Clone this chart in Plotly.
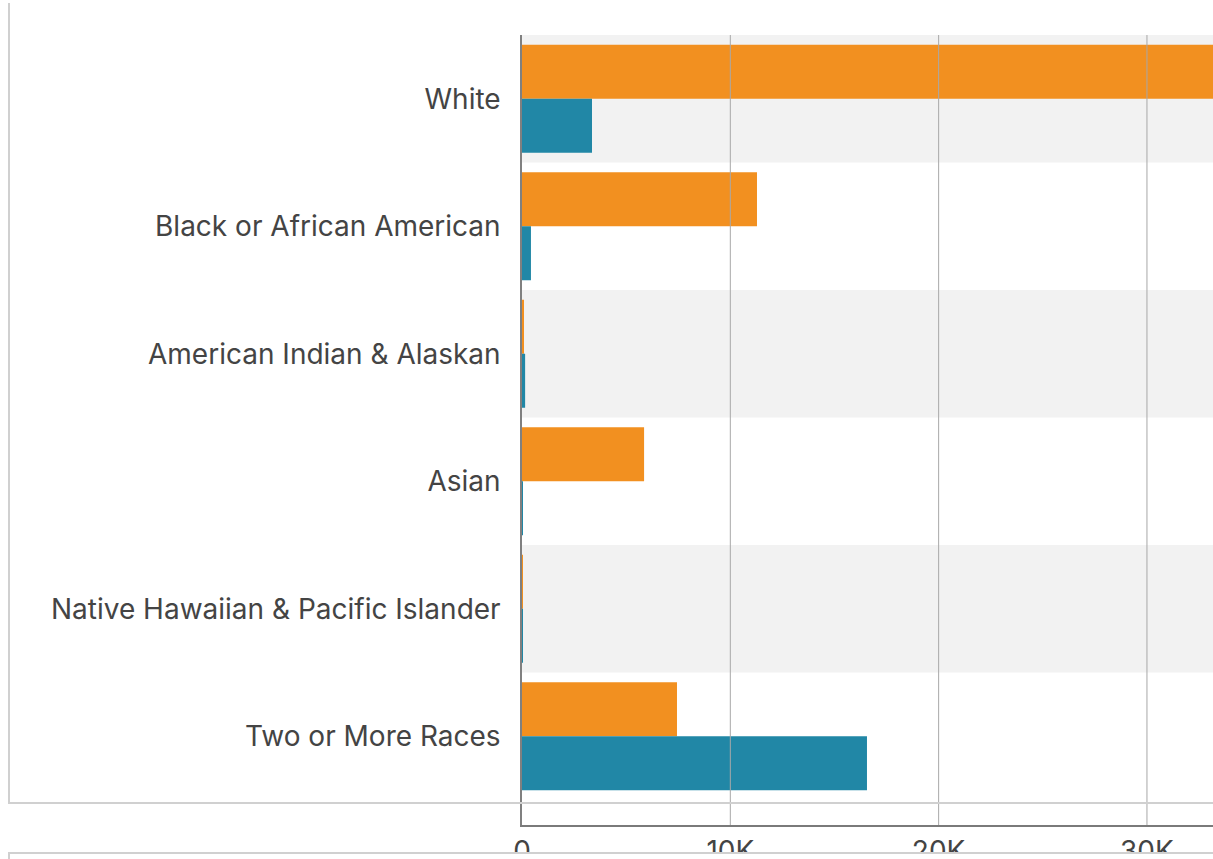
import plotly.graph_objects as go

categories = ["White", "Black or African American", "American Indian & Alaskan",
              "Asian", "Native Hawaiian & Pacific Islander", "Two or More Races"]
non_hispanic = [36000, 11280, 60, 5860, 25, 7440]
hispanic = [3360, 430, 150, 30, 20, 16560]
x_tickvals = [0, 10000, 20000, 30000]
x_ticktext = ["0", "10K", "20K", "30K"]

W, H = 1213, 859
L, R, T, B = 522, 1213, 35, 825  # plot area in pixels

def px(xp):
    return (xp - L) / (R - L)

def py(yp):
    return (B - yp) / (B - T)

ORANGE = "#F29020"
TEAL = "#2187A6"
FS = 28

fig = go.Figure()
fig.add_trace(go.Bar(y=categories, x=non_hispanic, orientation="h",
                     marker=dict(color=ORANGE, line=dict(width=0)), name="Not Hispanic"))
fig.add_trace(go.Bar(y=categories, x=hispanic, orientation="h",
                     marker=dict(color=TEAL, line=dict(width=0)), name="Hispanic"))

shapes = []
# alternating row bands
for i in range(len(categories)):
    if i % 2 == 0:
        shapes.append(dict(type="rect", xref="paper", yref="y", x0=0, x1=1,
                           y0=i - 0.5, y1=i + 0.5, fillcolor="#F2F2F2",
                           line=dict(width=0), layer="below"))
# gridlines above bars
for v in x_tickvals[1:]:
    shapes.append(dict(type="line", xref="x", yref="paper", x0=v, x1=v, y0=0, y1=1,
                       line=dict(color="#A8A8A8", width=1), layer="above"))
# outer frame lines
frame = "#D0D0D0"
shapes.append(dict(type="line", xref="paper", yref="paper", x0=px(9), x1=px(9),
                   y0=py(3), y1=py(803), line=dict(color=frame, width=2), layer="above"))
shapes.append(dict(type="line", xref="paper", yref="paper", x0=px(8), x1=px(1213),
                   y0=py(803), y1=py(803), line=dict(color=frame, width=2), layer="above"))
shapes.append(dict(type="rect", xref="paper", yref="paper", x0=px(8), x1=px(1213),
                   y0=py(853), y1=py(870), fillcolor="white", line=dict(width=0), layer="above"))
shapes.append(dict(type="line", xref="paper", yref="paper", x0=px(8), x1=px(1213),
                   y0=py(853), y1=py(853), line=dict(color=frame, width=2), layer="above"))
shapes.append(dict(type="line", xref="paper", yref="paper", x0=px(9), x1=px(9),
                   y0=py(853), y1=py(870), line=dict(color=frame, width=2), layer="above"))

fig.update_layout(
    width=W, height=H,
    margin=dict(l=L, r=W - R, t=T, b=H - B, pad=0, autoexpand=False),
    paper_bgcolor="white", plot_bgcolor="white",
    barmode="group", bargap=0.153, bargroupgap=0,
    showlegend=False,
    font=dict(family="Inter", size=FS, color="#444444"),
    shapes=shapes,
    xaxis=dict(range=[0, 33170], tickvals=x_tickvals, ticktext=x_ticktext,
               showgrid=False, zeroline=False, showline=True, linecolor="#7A7A7A",
               linewidth=2, layer="above traces", ticks="", fixedrange=True,
               automargin=False, tickfont=dict(size=FS, color="#444444")),
    yaxis=dict(range=[5.696, -0.5], showgrid=False, zeroline=False, showline=True,
               linecolor="#808080", linewidth=1.5, layer="above traces", ticks="",
               automargin=False, ticklabelstandoff=14,
               tickfont=dict(size=FS, color="#444444")),
)

fig.write_html("out.html", config={"displayModeBar": False},
               post_script="document.body.style.margin='0';document.body.style.overflow='hidden';")
